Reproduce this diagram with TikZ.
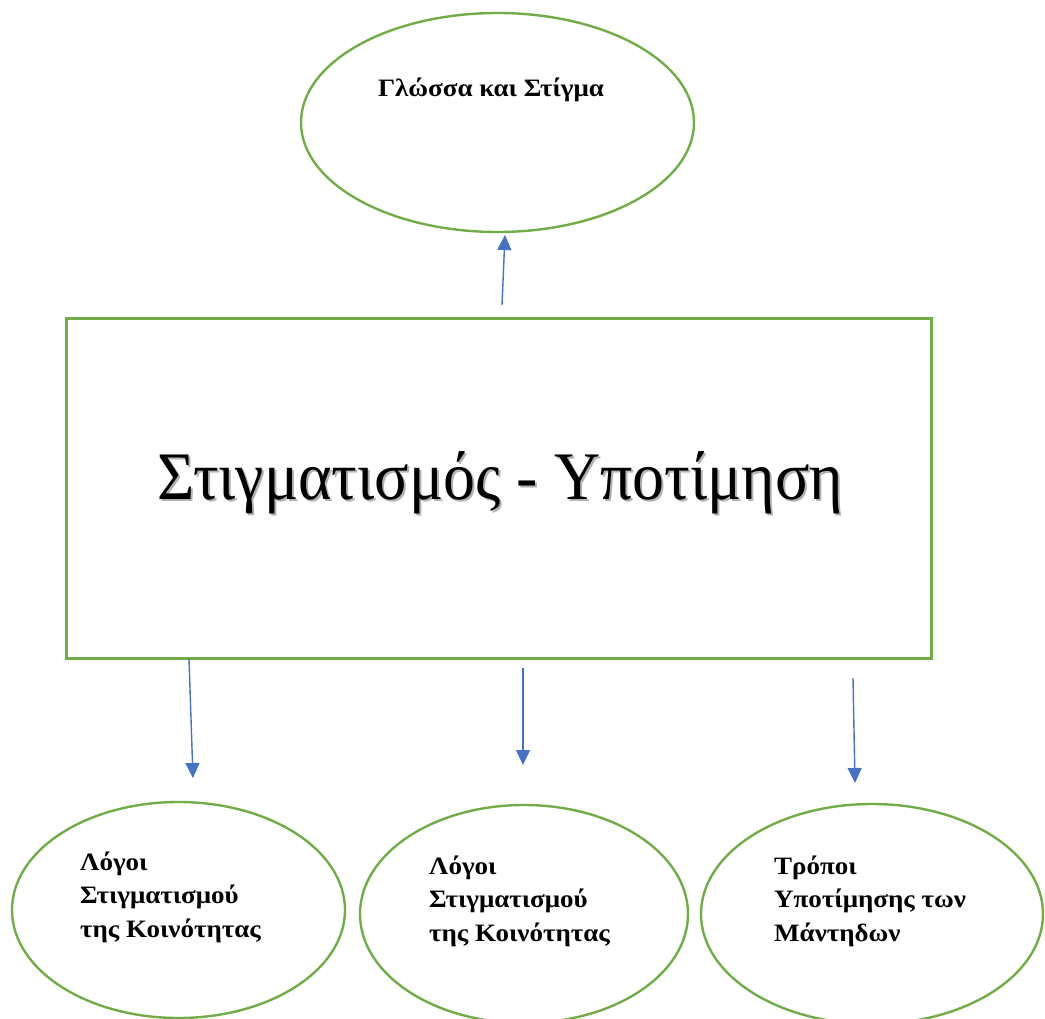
\documentclass[tikz,border=0pt]{standalone}
\usepackage{fontspec}
\setmainfont{Liberation Serif}
\newfontfamily\lblfont{Liberation Serif}[FakeStretch=1.08]
\newfontfamily\bigfont{Liberation Serif}[FakeStretch=0.94]
\usetikzlibrary{shapes.geometric,arrows.meta}
\definecolor{offgreen}{RGB}{112,173,71}
\definecolor{offblue}{RGB}{68,114,196}
\tikzset{
  oval/.style={draw=offgreen,line width=2.4pt,ellipse,inner sep=0pt},
  lbl/.style={font=\lblfont\fontsize{25}{33.5}\selectfont\bfseries,align=left,anchor=base west,inner sep=0pt},
  conn/.style={draw=offblue,line width=1.4pt,-{Triangle[length=15pt,width=14pt]}},
  bigtxt/.style={inner sep=0pt,anchor=base,font=\bigfont\fontsize{68}{80}\selectfont}
}
\begin{document}
\begin{tikzpicture}[x=1pt,y=-1pt]
\useasboundingbox (0,0) rectangle (1045,1019);
% top ellipse
\node[oval,minimum width=393pt,minimum height=219pt] (top) at (497.5,122.5) {};
\node[font=\lblfont\fontsize{25}{30}\selectfont\bfseries,inner sep=0pt,anchor=base] (toptxt) at (491,97) {Γλώσσα και Στίγμα};
% main rectangle
\node[draw=offgreen,line width=3pt,minimum width=865pt,minimum height=339pt,inner sep=0pt] (main) at (498.5,488.5) {};
\node[bigtxt,text=black!30] (shadow) at (502,501) {Στιγματισμός - Υποτίμηση};
\node[bigtxt] (maintxt) at (500,499) {Στιγματισμός - Υποτίμηση};
% up arrow
\coordinate (upS) at (502,305);
\coordinate (upE) at (505,235);
\draw[conn] (upS) -- (upE);
% bottom arrows
\coordinate (a1S) at (189,659);
\coordinate (a1E) at (193,778);
\coordinate (a2S) at (523,668);
\coordinate (a2E) at (523,765);
\coordinate (a3S) at (853,678);
\coordinate (a3E) at (855,783);
\draw[conn] (a1S) -- (a1E);
\draw[conn] (a2S) -- (a2E);
\draw[conn] (a3S) -- (a3E);
% bottom ellipses
\node[oval,minimum width=333pt,minimum height=216pt] (e1) at (178.5,910) {};
\node[oval,minimum width=328pt,minimum height=218pt] (e2) at (524,914) {};
\node[oval,minimum width=342pt,minimum height=220pt] (e3) at (872,914) {};
\node[lbl] (t1) at (80,937) {Λόγοι\\Στιγματισμού\\της Κοινότητας};
\node[lbl] (t2) at (429,941) {Λόγοι\\Στιγματισμού\\της Κοινότητας};
\node[lbl] (t3) at (774,941) {Τρόποι\\Υποτίμησης των\\Μάντηδων};
\end{tikzpicture}
\end{document}
